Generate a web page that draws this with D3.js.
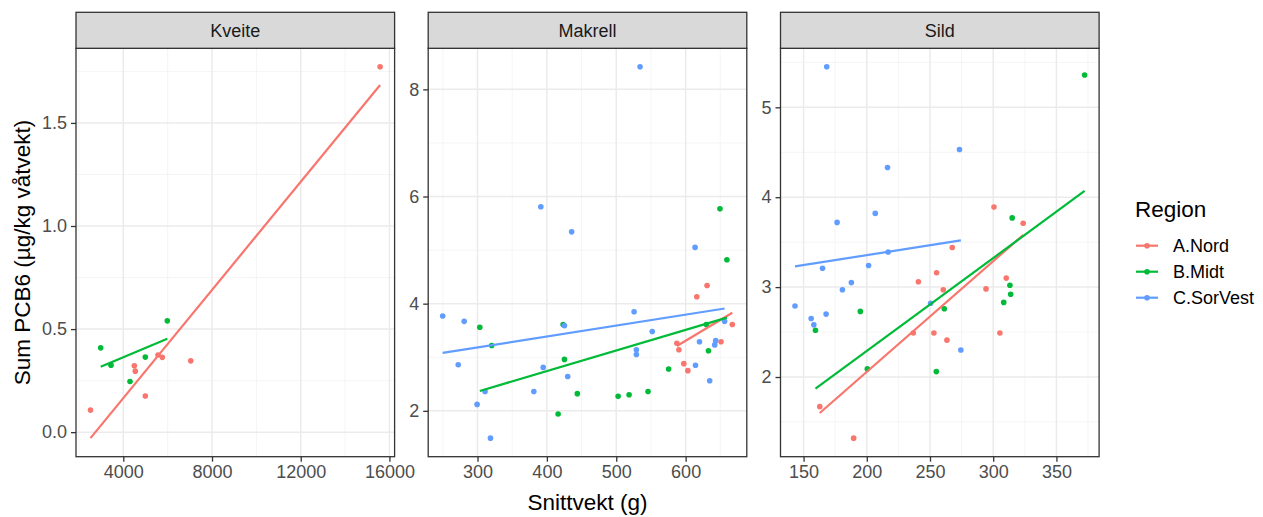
<!DOCTYPE html>
<meta charset="utf-8">
<script src="https://d3js.org/d3.v7.min.js"></script>
<style>
body { margin: 0; background: #fff; }
text { font-family: "Liberation Sans", Arial, sans-serif; }
</style>
<body>
<div id="chart"></div>
<script>
var species = ["Kveite", "Makrell", "Sild"];
var regions = ["A.Nord", "B.Midt", "C.SorVest"];
var colors = ["#F8766D", "#00BA38", "#619CFF"];

// points: [Snittvekt (g), Sum PCB6]
var kveiteNord = [[2520,0.107],[4496,0.322],[4541,0.296],[4992,0.175],[5565,0.374],[5759,0.363],[7040,0.346],[15580,1.772]];
var kveiteMidt = [[2981,0.409],[3445,0.325],[4302,0.246],[4992,0.364],[5985,0.540]];
var kveiteSorVest = [];

var makrellNord = [[630.9,4.34],[616.1,4.13],[667.3,3.61],[587.4,3.26],[590.3,3.14],[651,3.29],[597.4,2.88],[603.2,2.75]];
var makrellMidt = [[649.5,5.77],[659.5,4.82],[303.3,3.56],[423.4,3.61],[629.9,3.61],[320.5,3.22],[632.9,3.12],[425.3,2.96],[575.5,2.78],[443.9,2.32],[502.7,2.27],[518.5,2.30],[545.8,2.36],[416.2,1.94]];
var makrellSorVest = [[534.3,8.42],[391.3,5.81],[435.7,5.34],[613.6,5.05],[525.7,3.85],[249.8,3.77],[280.8,3.67],[425.3,3.59],[551.9,3.48],[656.2,3.67],[310.9,2.36],[620,3.29],[643.3,3.31],[641.9,3.23],[529,3.14],[529,3.05],[272.2,2.86],[394.7,2.81],[430,2.64],[614.2,2.85],[634.7,2.56],[381.2,2.36],[299.4,2.12],[318.7,1.49]];

var sildNord = [[300.6,3.89],[323.7,3.71],[267.6,3.44],[255.2,3.16],[240.8,3.06],[310.3,3.10],[294.3,2.98],[260.5,2.97],[236.8,2.49],[253.1,2.49],[305.3,2.49],[263.4,2.41],[162.8,1.67],[189.6,1.32]];
var sildMidt = [[372.3,5.36],[315,3.77],[313.2,3.02],[313.8,2.92],[308.3,2.83],[261.3,2.76],[194.9,2.73],[159.4,2.52],[200.4,2.09],[255,2.06]];
var sildSorVest = [[168.3,5.45],[273.3,4.53],[216.4,4.33],[206.7,3.82],[176.5,3.72],[216.9,3.39],[165,3.21],[201.4,3.24],[187.8,3.05],[180.7,2.97],[143.2,2.79],[250.5,2.82],[167.8,2.70],[156,2.65],[158.1,2.58],[274.4,2.30]];

// linear fit ends: [x0, y0, x1, y1]
var kveiteFits = [[2520,-0.029,15580,1.684],[2981,0.317,5985,0.453],null];
var makrellFits = [[587.4,3.21,667.3,3.83],[303.3,2.37,659.5,3.74],[249.8,3.08,656.2,3.91]];
var sildFits = [[162.8,1.60,323.7,3.58],[159.4,1.87,372.3,4.07],[143.2,3.23,274.4,3.52]];

var xTicks = [[4000,8000,12000,16000],[300,400,500,600],[150,200,250,300,350]];
var yTicks = [[0,0.5,1,1.5],[2,4,6,8],[2,3,4,5]];
var yMinor = [[-0.25,0.25,0.75,1.25,1.75],[1,3,5,7,9],[1.5,2.5,3.5,4.5,5.5]];
var xMinor = [[2000,6000,10000,14000],[250,350,450,550,650],[175,225,275,325,375]];

var points = [[kveiteNord,kveiteMidt,kveiteSorVest],[makrellNord,makrellMidt,makrellSorVest],[sildNord,sildMidt,sildSorVest]];
var fits = [kveiteFits, makrellFits, sildFits];

var W = 1263, H = 517;
var panelLeft = [76, 428.2, 780.5], panelW = 318.6;
var stripTop = 12.3, panelTop = 48.3, panelBottom = 456.7;

var svg = d3.select("#chart").append("svg")
    .attr("width", W).attr("height", H);

function pad(ext) {
  var d = (ext[1] - ext[0]) * 0.05;
  return [ext[0] - d, ext[1] + d];
}

species.forEach(function(sp, i) {
  var xs = [], ys = [];
  points[i].forEach(function(g) { g.forEach(function(p) { xs.push(p[0]); ys.push(p[1]); }); });
  fits[i].forEach(function(f) { if (f) { xs.push(f[0], f[2]); ys.push(f[1], f[3]); } });

  var x = d3.scaleLinear().domain(pad(d3.extent(xs))).range([panelLeft[i], panelLeft[i] + panelW]);
  var y = d3.scaleLinear().domain(pad(d3.extent(ys))).range([panelBottom, panelTop]);

  var g = svg.append("g");
  var x0 = panelLeft[i], x1 = panelLeft[i] + panelW;

  // grid
  var xd = x.domain(), yd = y.domain();
  var inX = function(v) { return v >= xd[0] && v <= xd[1]; };
  var inY = function(v) { return v >= yd[0] && v <= yd[1]; };
  g.selectAll(".ymin").data(yMinor[i].filter(inY)).enter().append("line")
    .attr("x1", x0).attr("x2", x1).attr("y1", y).attr("y2", y)
    .attr("stroke", "#F2F2F2").attr("stroke-width", 0.8);
  g.selectAll(".xmin").data(xMinor[i].filter(inX)).enter().append("line")
    .attr("y1", panelTop).attr("y2", panelBottom).attr("x1", x).attr("x2", x)
    .attr("stroke", "#F2F2F2").attr("stroke-width", 0.8);
  g.selectAll(".ymaj").data(yTicks[i]).enter().append("line")
    .attr("x1", x0).attr("x2", x1).attr("y1", y).attr("y2", y)
    .attr("stroke", "#EBEBEB").attr("stroke-width", 1.5);
  g.selectAll(".xmaj").data(xTicks[i]).enter().append("line")
    .attr("y1", panelTop).attr("y2", panelBottom).attr("x1", x).attr("x2", x)
    .attr("stroke", "#EBEBEB").attr("stroke-width", 1.5);

  // points
  points[i].forEach(function(grp, r) {
    g.selectAll(null).data(grp).enter().append("circle")
      .attr("cx", function(d) { return x(d[0]); })
      .attr("cy", function(d) { return y(d[1]); })
      .attr("r", 2.8)
      .attr("fill", colors[r]);
  });

  // fit lines
  fits[i].forEach(function(f, r) {
    if (!f) return;
    g.append("line")
      .attr("x1", x(f[0])).attr("y1", y(f[1]))
      .attr("x2", x(f[2])).attr("y2", y(f[3]))
      .attr("stroke", colors[r]).attr("stroke-width", 2.2);
  });

  // panel border
  g.append("rect").attr("x", x0).attr("y", panelTop)
    .attr("width", panelW).attr("height", panelBottom - panelTop)
    .attr("fill", "none").attr("stroke", "#333333").attr("stroke-width", 1.3);

  // strip
  g.append("rect").attr("x", x0).attr("y", stripTop)
    .attr("width", panelW).attr("height", panelTop - stripTop)
    .attr("fill", "#D9D9D9").attr("stroke", "#333333").attr("stroke-width", 1.3);
  g.append("text").attr("x", x0 + panelW / 2).attr("y", 37)
    .attr("text-anchor", "middle").attr("font-size", "18px").attr("fill", "#1A1A1A")
    .text(sp);

  // axes
  var fmt = i === 0 ? d3.format(".1f") : d3.format("d");
  var ax = g.append("g").attr("transform", "translate(0," + panelBottom + ")")
    .call(d3.axisBottom(x).tickValues(xTicks[i]).tickSize(5).tickPadding(4).tickFormat(d3.format("d")));
  var ay = g.append("g").attr("transform", "translate(" + x0 + ",0)")
    .call(d3.axisLeft(y).tickValues(yTicks[i]).tickSize(5).tickPadding(4).tickFormat(fmt));
  [ax, ay].forEach(function(a) {
    a.select(".domain").remove();
    a.selectAll(".tick line").attr("stroke", "#333333").attr("stroke-width", 1.3);
    a.selectAll(".tick text").attr("fill", "#4D4D4D").attr("font-size", "18px")
      .attr("font-family", "'Liberation Sans', Arial, sans-serif");
  });
});

// axis titles
svg.append("text").attr("x", (panelLeft[0] + panelLeft[2] + panelW) / 2).attr("y", 510)
  .attr("text-anchor", "middle").attr("font-size", "22.5px").attr("fill", "#000")
  .text("Snittvekt (g)");
svg.append("text").attr("transform", "translate(30," + ((panelTop + panelBottom) / 2) + ") rotate(-90)")
  .attr("text-anchor", "middle").attr("font-size", "22.5px").attr("fill", "#000")
  .text("Sum PCB6 (µg/kg våtvekt)");

// legend
var leg = svg.append("g");
leg.append("text").attr("x", 1135).attr("y", 217.3).attr("font-size", "22.5px").attr("fill", "#000").text("Region");
regions.forEach(function(r, k) {
  var cy = 245.7 + k * 26;
  leg.append("line").attr("x1", 1136).attr("x2", 1158).attr("y1", cy).attr("y2", cy)
    .attr("stroke", colors[k]).attr("stroke-width", 2.2);
  leg.append("circle").attr("cx", 1147).attr("cy", cy).attr("r", 2.8).attr("fill", colors[k]);
  leg.append("text").attr("x", 1173).attr("y", cy + 6.5).attr("font-size", "18px").attr("fill", "#000").text(r);
});
</script>
</body>
